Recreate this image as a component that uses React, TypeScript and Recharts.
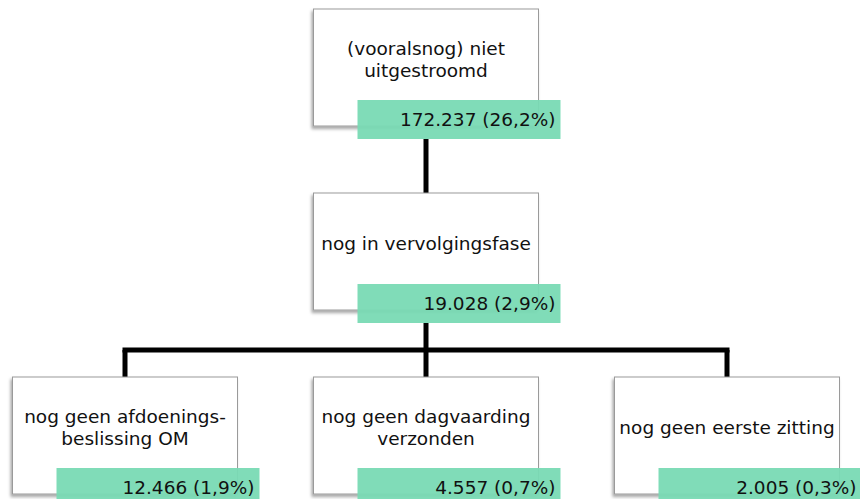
import React from "react";
import { ScatterChart, Scatter, XAxis, YAxis, ReferenceLine } from "recharts";

// nodes of the tree, top to bottom, left to right
const labels: string[][] = [
  ["(vooralsnog) niet", "uitgestroomd"],
  ["nog in vervolgingsfase"],
  ["nog geen afdoenings-", "beslissing OM"],
  ["nog geen dagvaarding", "verzonden"],
  ["nog geen eerste zitting"],
];
const counts: number[] = [172237, 19028, 12466, 4557, 2005];
const shares: number[] = [26.2, 2.9, 1.9, 0.7, 0.3];
const parents: number[] = [-1, 0, 1, 1, 1];

const W = 860;
const H = 499;
const COL_PX = 301;
const LEVEL_PX = 184;
const BOX_W = 225;
const BOX_H = 117;
const TAG_W = 203;
const TAG_H = 39;
const TAG_DX = 44;
const TAG_DY = 91;
const LINE_W = 5;
const GREEN = "#79dab4";
const FONT = "'DejaVu Sans', Verdana, sans-serif";
const FS = 18.5;

interface NodeItem {
  id: number;
  col: number;
  level: number;
  lines: string[];
  count: number;
  share: number;
}

// depth from parent chain, columns: leaves in order, parents centred over children
const depthOf = (i: number): number => (parents[i] < 0 ? 0 : depthOf(parents[i]) + 1);
const childrenOf = (i: number) => parents.map((p, j) => (p === i ? j : -1)).filter((j) => j >= 0);
const cols: number[] = [];
let leafNo = 0;
const place = (i: number): number => {
  const kids = childrenOf(i);
  if (kids.length === 0) {
    cols[i] = leafNo++;
  } else {
    const c = kids.map(place);
    cols[i] = (Math.min(...c) + Math.max(...c)) / 2;
  }
  return cols[i];
};
parents.forEach((p, i) => {
  if (p < 0) place(i);
});

const nodes: NodeItem[] = labels.map((lines, i) => ({
  id: i,
  col: cols[i],
  level: depthOf(i),
  lines,
  count: counts[i],
  share: shares[i],
}));

const fmtCount = (v: number) => v.toString().replace(/\B(?=(\d{3})+(?!\d))/g, ".");
const fmtShare = (v: number) => v.toFixed(1).replace(".", ",");

// connector segments in data units
const tagBottom = (TAG_DY + TAG_H - BOX_H / 2) / LEVEL_PX;
const boxTop = BOX_H / 2 / LEVEL_PX;
const half = LINE_W / 2 / COL_PX;
type Seg = { x: number; y: number }[];
const segments: Seg[] = [];
nodes.forEach((n) => {
  const kids = childrenOf(n.id).map((k) => nodes[k]);
  if (kids.length === 0) return;
  const from = n.level + tagBottom;
  const to = n.level + 1 - boxTop;
  if (kids.length === 1 && kids[0].col === n.col) {
    segments.push([{ x: n.col, y: from }, { x: n.col, y: to }]);
    return;
  }
  const bus = (from + to) / 2;
  const xs = kids.map((k) => k.col);
  segments.push([{ x: n.col, y: from }, { x: n.col, y: bus }]);
  segments.push([
    { x: Math.min(...xs) - half, y: bus },
    { x: Math.max(...xs) + half, y: bus },
  ]);
  kids.forEach((k) => segments.push([{ x: k.col, y: bus }, { x: k.col, y: to }]));
});

const NodeShape = (props: any) => {
  const { cx, cy, payload } = props;
  const n = payload as NodeItem;
  const left = cx - BOX_W / 2;
  const top = cy - BOX_H / 2;
  const lh = 21.5;
  const firstY = cy - 8 - ((n.lines.length - 1) * lh) / 2;
  return (
    <g>
      <rect
        x={left}
        y={top}
        width={BOX_W}
        height={BOX_H}
        fill="#fff"
        stroke="#9a9a9a"
        strokeWidth={1}
        filter="url(#boxShadow)"
      />
      {n.lines.map((l, i) => (
        <text
          key={i}
          x={cx}
          y={firstY + i * lh}
          textAnchor="middle"
          dominantBaseline="central"
          fontFamily={FONT}
          fontSize={FS}
          fill="#111"
        >
          {l}
        </text>
      ))}
      <rect x={left + TAG_DX} y={top + TAG_DY} width={TAG_W} height={TAG_H} fill={GREEN} fillOpacity={0.95} />
      <text
        x={left + TAG_DX + TAG_W - 5}
        y={top + TAG_DY + TAG_H / 2}
        textAnchor="end"
        dominantBaseline="central"
        fontFamily={FONT}
        fontSize={FS}
        fill="#111"
      >
        {`${fmtCount(n.count)} (${fmtShare(n.share)}%)`}
      </text>
    </g>
  );
};

const App: React.FC = () => {
  const leftM = 125;
  const topM = 67.5;
  const maxCol = Math.max(...cols);
  const maxLevel = Math.max(...nodes.map((n) => n.level));
  return (
    <div style={{ position: "absolute", left: 0, top: 0, width: W, height: H, background: "#fff" }}>
      <ScatterChart
        width={W}
        height={H}
        margin={{
          top: topM,
          left: leftM,
          right: W - leftM - maxCol * COL_PX,
          bottom: H - topM - maxLevel * LEVEL_PX,
        }}
      >
        <defs>
          <filter id="boxShadow" x="-10%" y="-10%" width="120%" height="130%">
            <feDropShadow dx={-1.5} dy={2.5} stdDeviation={1.5} floodColor="#000" floodOpacity={0.35} />
          </filter>
        </defs>
        <XAxis type="number" dataKey="col" domain={[0, maxCol]} hide />
        <YAxis type="number" dataKey="level" domain={[0, maxLevel]} reversed hide />
        {segments.map((s, i) => (
          <ReferenceLine
            key={i}
            segment={s}
            stroke="#000"
            strokeWidth={LINE_W}
            ifOverflow="visible"
          />
        ))}
        <Scatter data={nodes} shape={NodeShape} isAnimationActive={false} />
      </ScatterChart>
    </div>
  );
};

export default App;
